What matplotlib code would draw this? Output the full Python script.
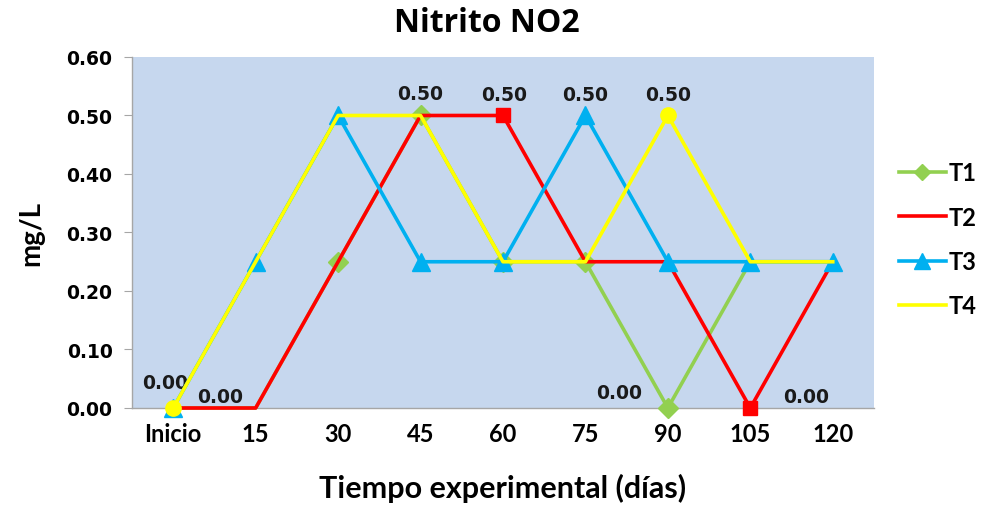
import matplotlib
matplotlib.use("Agg")
import matplotlib.pyplot as plt
from matplotlib.lines import Line2D

# Sampling days
categories = ["Inicio", "15", "30", "45", "60", "75", "90", "105", "120"]

# Nitrite (mg/L) per treatment
t1 = [0.00, 0.00, 0.25, 0.50, 0.25, 0.25, 0.00, 0.25, 0.25]
t2 = [0.00, 0.00, 0.25, 0.50, 0.50, 0.25, 0.25, 0.00, 0.25]
t3 = [0.00, 0.25, 0.50, 0.25, 0.25, 0.50, 0.25, 0.25, 0.25]
t4 = [0.00, 0.25, 0.50, 0.50, 0.25, 0.25, 0.50, 0.25, 0.25]

series_names = ["T1", "T2", "T3", "T4"]
yticks = [0.0, 0.1, 0.2, 0.3, 0.4, 0.5, 0.6]

green = "#92D050"
red = "#FF0000"
cyan = "#00B0F0"
yellow = "#FFFF00"
bg = "#C6D7EE"

fig = plt.figure(figsize=(9.88, 5.06), dpi=100)
ax = fig.add_axes([0.1336, 0.1917, 0.7510, 0.6937])
ax.set_facecolor(bg)

x = list(range(len(categories)))
lw = 2.6

ax.plot(x, t1, color=green, lw=lw, marker="D", ms=10, markevery=[2, 3, 4, 5, 6],
        clip_on=False, zorder=3)
ax.plot(x, t2, color=red, lw=lw, marker="s", ms=10, markevery=[4, 7],
        clip_on=False, zorder=4)
ax.plot(x, t3, color=cyan, lw=lw, marker="^", ms=13, clip_on=False, zorder=5)
ax.plot(x, t4, color=yellow, lw=lw, marker="o", ms=11, markevery=[0, 6],
        clip_on=False, zorder=6)

ax.set_xlim(-0.5, len(categories) - 0.5)
ax.set_ylim(0, 0.6)
ax.set_yticks(yticks)
ax.set_yticklabels([f"{v:.2f}" for v in yticks], fontfamily="DejaVu Sans",
                   fontweight="bold", fontsize=13.5)
ax.set_xticks(x)
ax.set_xticklabels(categories, fontfamily="Lato", fontweight="bold", fontsize=17)

for s in ["top", "right"]:
    ax.spines[s].set_visible(False)
ax.spines["left"].set_color("#A6A6A6")
ax.spines["bottom"].set_color("#A6A6A6")
ax.spines["left"].set_linewidth(1)
ax.spines["bottom"].set_linewidth(1)
ax.tick_params(axis="y", length=6, color="#A6A6A6", pad=8)
ax.tick_params(axis="x", length=0, pad=10)

# Value labels
lab = dict(fontfamily="DejaVu Sans", fontweight="bold", fontsize=13.5, color="#1a1a1a")
ax.annotate(f"{t4[0]:.2f}", (0, t4[0]), xytext=(-6, 18), textcoords="offset points",
            ha="center", va="center", **lab)
ax.annotate(f"{t2[0]:.2f}", (0, t2[0]), xytext=(34, 8), textcoords="offset points",
            ha="center", va="center", **lab)
ax.annotate(f"{t1[3]:.2f}", (3, t1[3]), xytext=(0, 16), textcoords="offset points",
            ha="center", va="center", **lab)
ax.annotate(f"{t2[4]:.2f}", (4, t2[4]), xytext=(1, 15), textcoords="offset points",
            ha="center", va="center", **lab)
ax.annotate(f"{t3[5]:.2f}", (5, t3[5]), xytext=(0, 15), textcoords="offset points",
            ha="center", va="center", **lab)
ax.annotate(f"{t4[6]:.2f}", (6, t4[6]), xytext=(0, 15), textcoords="offset points",
            ha="center", va="center", **lab)
ax.annotate(f"{t1[6]:.2f}", (6, t1[6]), xytext=(-35, 11), textcoords="offset points",
            ha="center", va="center", **lab)
ax.annotate(f"{t2[7]:.2f}", (7, t2[7]), xytext=(40, 8), textcoords="offset points",
            ha="center", va="center", **lab)

ax.set_ylabel("mg/L", fontfamily="Lato", fontweight="bold", fontsize=20, labelpad=16)
ax.set_xlabel("Tiempo experimental (días)", fontfamily="Lato", fontweight="bold",
              fontsize=22, labelpad=20)
fig.text(0.493, 0.953, "Nitrito NO2", ha="center", va="center",
         fontfamily="Open Sans", fontweight="bold", fontsize=23)

handles = [
    Line2D([], [], color=green, lw=lw, marker="D", ms=8),
    Line2D([], [], color=red, lw=lw),
    Line2D([], [], color=cyan, lw=lw, marker="^", ms=11),
    Line2D([], [], color=yellow, lw=lw),
]
leg = fig.legend(handles, series_names, loc="center left", bbox_to_anchor=(0.893, 0.525),
                 frameon=False, handlelength=2.0, handletextpad=0.1, labelspacing=0.9,
                 borderpad=0.2, prop={"family": "Lato", "weight": "bold", "size": 17})

fig.savefig("out.png", dpi=100)
